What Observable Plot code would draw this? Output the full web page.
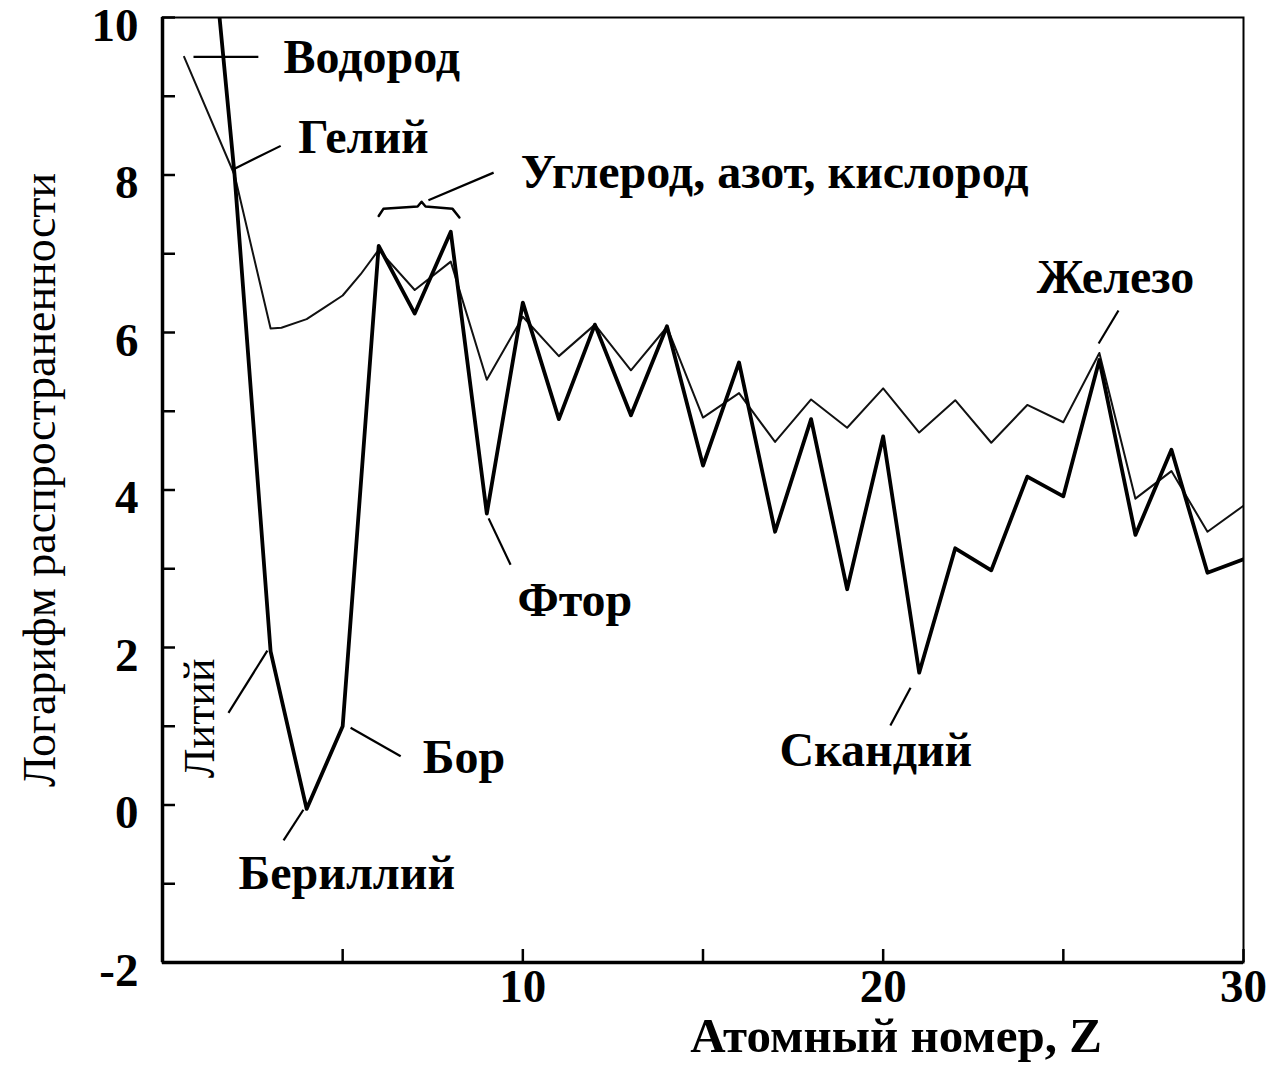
<!DOCTYPE html>
<html>
<head>
<meta charset="utf-8">
<script src="https://cdn.jsdelivr.net/npm/d3@7"></script>
<script src="https://cdn.jsdelivr.net/npm/@observablehq/plot@0.6"></script>
<style>
  html, body { margin: 0; padding: 0; background: #fff; }
  #chart svg { display: block; }
</style>
</head>
<body>
<div id="chart"></div>
<script>
// ---- Data ----
// Bold curve: atomic numbers and log abundance
const atomicNumbers = [1,2,3,4,5,6,7,8,9,10,11,12,13,14,15,16,17,18,19,20,21,22,23,24,25,26,27,28,29,30];
const logAbundanceBold = [12.8, 8.0, 1.95, -0.05, 1.0, 7.1, 6.24, 7.28, 3.7, 6.38, 4.9, 6.1, 4.95, 6.08, 4.31, 5.62, 3.47, 4.9, 2.74, 4.68, 1.68, 3.26, 2.98, 4.17, 3.92, 5.65, 3.43, 4.51, 2.95, 3.12];

// Thin curve: its own Z positions (smooth stretch between Z=3 and Z=6)
const thinZ = [0.6, 2, 3, 3.3, 4, 4.5, 5, 5.5, 6, 7, 8, 9, 10, 11, 12, 13, 14, 15, 16, 17, 18, 19, 20, 21, 22, 23, 24, 25, 26, 27, 28, 29, 30];
const logAbundanceThin = [9.5, 8.0, 6.05, 6.06, 6.17, 6.32, 6.47, 6.74, 7.05, 6.54, 6.9, 5.4, 6.2, 5.7, 6.1, 5.52, 6.07, 4.92, 5.23, 4.61, 5.15, 4.79, 5.29, 4.73, 5.14, 4.6, 5.08, 4.86, 5.74, 3.89, 4.24, 3.47, 3.8];

// Axis ticks
const yMajorTicks = [-2, 0, 2, 4, 6, 8, 10];
const yTickLabels = ["-2", "0", "2", "4", "6", "8", "10"];
const yAllTicks = [-2, -1, 0, 1, 2, 3, 4, 5, 6, 7, 8, 9, 10];
const xAllTicks = [5, 10, 15, 20, 25, 30];
const xMajorTicks = [10, 20, 30];
const xTickLabels = ["10", "20", "30"];

const xAxisTitle = "Атомный номер, Z";
const yAxisTitle = "Логарифм распространенности";

// Annotation labels (data coordinates)
const labelTexts = ["Водород", "Гелий", "Углерод, азот, кислород", "Фтор", "Скандий", "Бор", "Бериллий"];
const labelZ = [3.36, 3.77, 9.94, 9.85, 17.12, 7.22, 2.11];
const labelV = [9.49, 8.48, 8.03, 2.60, 0.69, 0.60, -0.87];
const ironLabel = {text: "Железо", z: 26.45, v: 6.70};
const lithiumLabel = {text: "Литий", z: 1.05, v: 1.10};

// Leader lines (data coordinates)
const leaderZ1 = [0.86, 2.0, 7.38, 25.98, 9.05, 20.76, 5.22, 3.91, 2.91];
const leaderV1 = [9.5, 8.08, 7.68, 5.86, 3.64, 1.49, 0.98, -0.06, 1.96];
const leaderZ2 = [2.66, 3.28, 9.19, 26.53, 9.66, 20.2, 6.61, 3.36, 1.83];
const leaderV2 = [9.5, 8.37, 8.03, 6.28, 3.05, 1.01, 0.62, -0.45, 1.17];

// Brace over C, N, O
const braceZ = [6.0, 6.13, 7.08, 7.19, 7.30, 8.05, 8.24];
const braceV = [7.48, 7.57, 7.6, 7.66, 7.6, 7.57, 7.46];

// ---- Build tables ----
const bold = atomicNumbers.map((z, i) => ({z, v: logAbundanceBold[i]}));
const thin = thinZ.map((z, i) => ({z, v: logAbundanceThin[i]}));
const labels = labelTexts.map((t, i) => ({text: t, z: labelZ[i], v: labelV[i]}));
const leaders = leaderZ1.map((z, i) => ({z1: z, v1: leaderV1[i], z2: leaderZ2[i], v2: leaderV2[i]}));
const brace = braceZ.map((z, i) => ({z, v: braceV[i]}));

const serif = "'Liberation Serif', 'Times New Roman', 'DejaVu Serif', serif";

const chart = Plot.plot({
  width: 1273,
  height: 1065,
  marginLeft: 162,
  marginRight: 30,
  marginTop: 17,
  marginBottom: 103,
  x: {domain: [0, 30]},
  y: {domain: [-2, 10]},
  style: {fontFamily: serif, background: "#fff", color: "#000"},
  marks: [
    Plot.line(thin, {x: "z", y: "v", stroke: "#111", strokeWidth: 2, clip: true}),
    Plot.line(bold, {x: "z", y: "v", stroke: "#000", strokeWidth: 3.8, clip: true}),
    Plot.line(brace, {x: "z", y: "v", stroke: "#000", strokeWidth: 2.5}),
    Plot.link(leaders, {x1: "z1", y1: "v1", x2: "z2", y2: "v2", stroke: "#000", strokeWidth: 2.2}),
    Plot.frame({stroke: "#000", strokeWidth: 2}),
    Plot.ruleX([0], {stroke: "#000", strokeWidth: 3.5}),
    Plot.ruleY([-2], {stroke: "#000", strokeWidth: 3.5}),
    Plot.axisY({ticks: yAllTicks, tickSize: -13, tickFormat: () => "", strokeWidth: 2.5, label: null}),
    Plot.axisY({ticks: yMajorTicks, tickSize: 0, tickPadding: 24, dy: 8, tickFormat: d => yTickLabels[yMajorTicks.indexOf(d)], fontSize: 47, fontWeight: "bold", label: null}),
    Plot.axisX({ticks: xAllTicks, tickSize: -13, tickFormat: () => "", strokeWidth: 2.5, label: null}),
    Plot.axisX({ticks: xMajorTicks, tickSize: 0, tickPadding: 6, tickFormat: d => xTickLabels[xMajorTicks.indexOf(d)], fontSize: 47, fontWeight: "bold", label: null}),
    Plot.text([xAxisTitle], {frameAnchor: "bottom", text: d => d, textAnchor: "middle", lineAnchor: "middle", dx: 193, dy: 74, fontSize: 49, fontWeight: "bold"}),
    Plot.text([yAxisTitle], {frameAnchor: "left", text: d => d, textAnchor: "middle", lineAnchor: "middle", dx: -122, dy: -10, rotate: -90, fontSize: 46}),
    Plot.text(labels, {x: "z", y: "v", text: "text", textAnchor: "start", fontSize: 48, fontWeight: "bold"}),
    Plot.text([ironLabel], {x: "z", y: "v", text: "text", textAnchor: "middle", fontSize: 48, fontWeight: "bold"}),
    Plot.text([lithiumLabel], {x: "z", y: "v", text: "text", rotate: -90, textAnchor: "middle", fontSize: 44})
  ]
});

document.getElementById("chart").appendChild(chart);
</script>
</body>
</html>
